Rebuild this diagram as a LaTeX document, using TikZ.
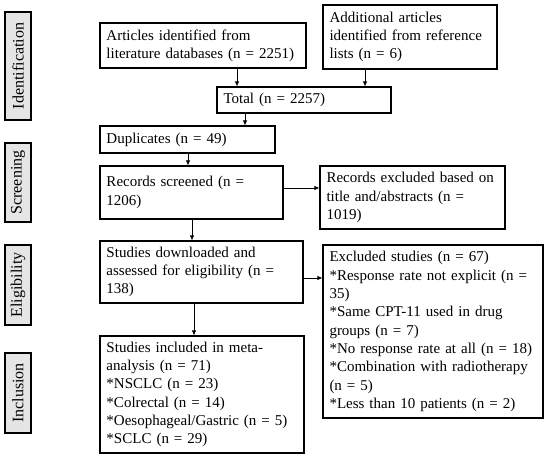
\documentclass[tikz,border=0pt]{standalone}
\usepackage{fontspec}
\setmainfont{Liberation Serif}
\usetikzlibrary{arrows.meta}
\tikzset{
  box/.style={draw, line width=1.1pt, align=left, inner xsep=6pt, inner ysep=2pt,
    font=\fontsize{15}{18.3}\selectfont},
  stage/.style={draw, line width=1.1pt, fill=black!10, rotate=90, inner sep=0pt,
    minimum height=26pt, font=\fontsize{16}{18}\selectfont},
  arr/.style={-{Latex[length=5pt,width=4.5pt]}, line width=0.7pt}
}
\begin{document}
\begin{tikzpicture}[x=1pt,y=-1pt]
  \useasboundingbox (0,0) rectangle (550,462);
  % stages
  \node[stage, minimum width=108pt] (id) at (18,66) {Identification};
  \node[stage, minimum width=79pt] (scr) at (18,182.5) {Screening};
  \node[stage, minimum width=80pt] (el) at (18,285) {Eligibility};
  \node[stage, minimum width=80pt] (inc) at (18,393) {Inclusion};
  % boxes
  \node[box, minimum width=206pt, minimum height=45pt, text width=193pt] (lit) at (203,45.5)
    {Articles identified from\\literature databases (n = 2251)};
  \node[box, minimum width=174pt, minimum height=64pt, text width=161pt] (ref) at (410,37)
    {Additional articles\\identified from reference\\lists (n = 6)};
  \node[box, minimum width=174pt, minimum height=26pt, text width=161pt] (total) at (304,100)
    {Total (n = 2257)};
  \node[box, minimum width=175pt, minimum height=27pt, text width=162pt] (dup) at (187.5,139.5)
    {Duplicates (n = 49)};
  \node[box, minimum width=183pt, minimum height=53pt, text width=170pt] (screen) at (191.5,192.5)
    {Records screened (n =\\1206)};
  \node[box, minimum width=185pt, minimum height=63pt, text width=172pt] (recex) at (412.5,197.5)
    {Records excluded based on\\title and/abstracts (n =\\1019)};
  \node[box, minimum width=203pt, minimum height=62pt, text width=190pt] (elig) at (201.5,272)
    {Studies downloaded and\\assessed for eligibility (n =\\138)};
  \node[box, minimum width=220pt, minimum height=173pt, text width=207pt] (studex) at (433,331.5)
    {Excluded studies (n = 67)\\{*}Response rate not explicit (n =\\35)\\{*}Same CPT-11 used in drug\\groups (n = 7)\\{*}No response rate at all (n = 18)\\{*}Combination with radiotherapy\\(n = 5)\\{*}Less than 10 patients (n = 2)};
  \node[box, minimum width=204pt, minimum height=117pt, text width=191pt] (incl) at (202,394.5)
    {Studies included in meta-\\analysis (n = 71)\\{*}NSCLC (n = 23)\\{*}Colrectal (n = 14)\\{*}Oesophageal/Gastric (n = 5)\\{*}SCLC (n = 29)};
  % connectors
  \coordinate (a1) at (237,68);
  \coordinate (a2) at (365,69);
  \coordinate (a3) at (245,113);
  \coordinate (a4) at (188,153);
  \coordinate (a5) at (192,219);
  \coordinate (a6) at (194,303);
  \draw[arr] (a1) -- (a1 |- total.north);
  \draw[arr] (a2) -- (a2 |- total.north);
  \draw[arr] (a3) -- (a3 |- dup.north);
  \draw[arr] (a4) -- (a4 |- screen.north);
  \draw[arr] (screen.east |- 0,188) -- (recex.west |- 0,188);
  \draw[arr] (a5) -- (a5 |- elig.north);
  \draw[arr] (a6) -- (a6 |- incl.north);
  \draw[arr] (elig.east |- 0,278) -- (studex.west |- 0,278);
\end{tikzpicture}
\end{document}
